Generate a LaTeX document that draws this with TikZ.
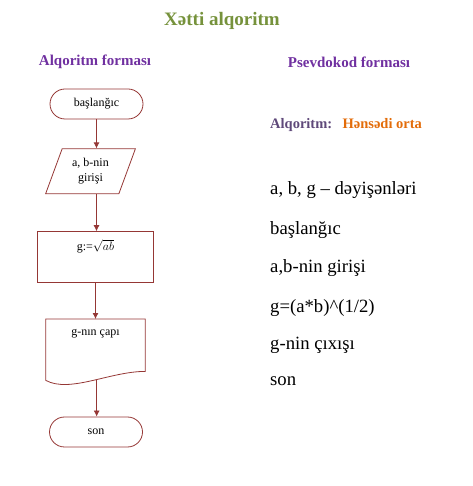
\documentclass[tikz,border=0pt]{standalone}
\usepackage{fontspec}
\setmainfont{Liberation Serif}
\usepackage{xcolor}
\usepackage{tikz}
\usetikzlibrary{shapes,arrows.meta,positioning,calc}

\definecolor{titlegreen}{HTML}{76923C}
\definecolor{headpurple}{HTML}{7030A0}
\definecolor{algpurple}{HTML}{5F497A}
\definecolor{algorange}{HTML}{E36C09}
\definecolor{flowred}{HTML}{953735}

\begin{document}
\begin{tikzpicture}[
    x=1pt, y=1pt,
    node distance=30pt,
    term/.style={rectangle, draw=flowred, line width=0.8pt, rounded corners=15pt, minimum width=93pt, minimum height=30pt, align=center, font=\fontsize{12}{14}\selectfont},
    io/.style={trapezium, trapezium left angle=68, trapezium right angle=112, trapezium stretches=true, draw=flowred, line width=0.8pt, minimum width=90pt, minimum height=45pt, align=center, inner sep=1pt, font=\fontsize{12}{15}\selectfont},
    proc/.style={rectangle, draw=flowred, line width=0.8pt, minimum width=116pt, minimum height=51pt},
    docbox/.style={rectangle, minimum width=99pt, minimum height=52pt},
    boxtext/.style={font=\fontsize{12}{14}\selectfont},
    head/.style={font=\bfseries\fontsize{15}{17}\selectfont, text=headpurple},
    arrow/.style={-{Latex[length=6pt,width=6pt]}, line width=0.8pt, draw=flowred},
    code/.style={anchor=west, inner sep=0pt, font=\fontsize{18.7}{22}\selectfont}
]
\useasboundingbox (0,0) rectangle (472,486);

% headings
\node[font=\bfseries\fontsize{19}{22}\selectfont, text=titlegreen] (title) at (222,465) {Xətti alqoritm};
\node[head] (flowhead) at (95,424) {Alqoritm forması};
\node[head] (codehead) at (349,424) {Psevdokod forması};

% flowchart
\node[term] (start) at (96.5,382) {başlanğıc};
\node[io, below=29pt of start, xshift=-6pt] (input) {a, b-nin\\girişi};
\node[proc, below=37pt of input, xshift=5pt] (calc) {};
\node[boxtext] (calctext) at ($(calc.north)+(0,-15)$) {g:=$\sqrt{ab}$};
\node[docbox, below=36pt of calc] (doc) {};
\node[boxtext] (doctext) at ($(doc.north)+(0,-15)$) {g-nın çapı};
\draw[flowred, line width=0.8pt] (doc.north west) -- (doc.north east) -- (doc.south east)
    .. controls +(-35,0) and +(24,-13) .. coordinate[pos=0.45] (docb) ($(doc.south west)+(0,-9)$) -- cycle;
\node[term] (stop) at (96,54) {son};

\draw[arrow] (start.south) -- (start.south |- input.north);
\draw[arrow] (start.south |- input.south) -- (start.south |- calc.north);
\draw[arrow] (calc.south) -- (doc.north -| calc.south);
\draw[arrow] (docb) -- (docb |- stop.north);

% pseudocode
\node[anchor=base west, inner sep=0pt, font=\bfseries\fontsize{14.5}{17}\selectfont, text=algpurple] (alg) at (270,357) {Alqoritm:};
\node[base right=10pt of alg, inner sep=0pt, font=\bfseries\fontsize{14.5}{17}\selectfont, text=algorange] (algname) {Hənsədi orta};
\node[code] (line1) at (270,296) {a, b, g – dəyişənləri};
\node[code] (line2) at (270,256) {başlanğıc};
\node[code] (line3) at (270,218) {a,b-nin girişi};
\node[code] (line4) at (270,178) {g=(a*b)\^{}(1/2)};
\node[code] (line5) at (270,141) {g-nin çıxışı};
\node[code] (line6) at (270,105) {son};
\end{tikzpicture}
\end{document}
